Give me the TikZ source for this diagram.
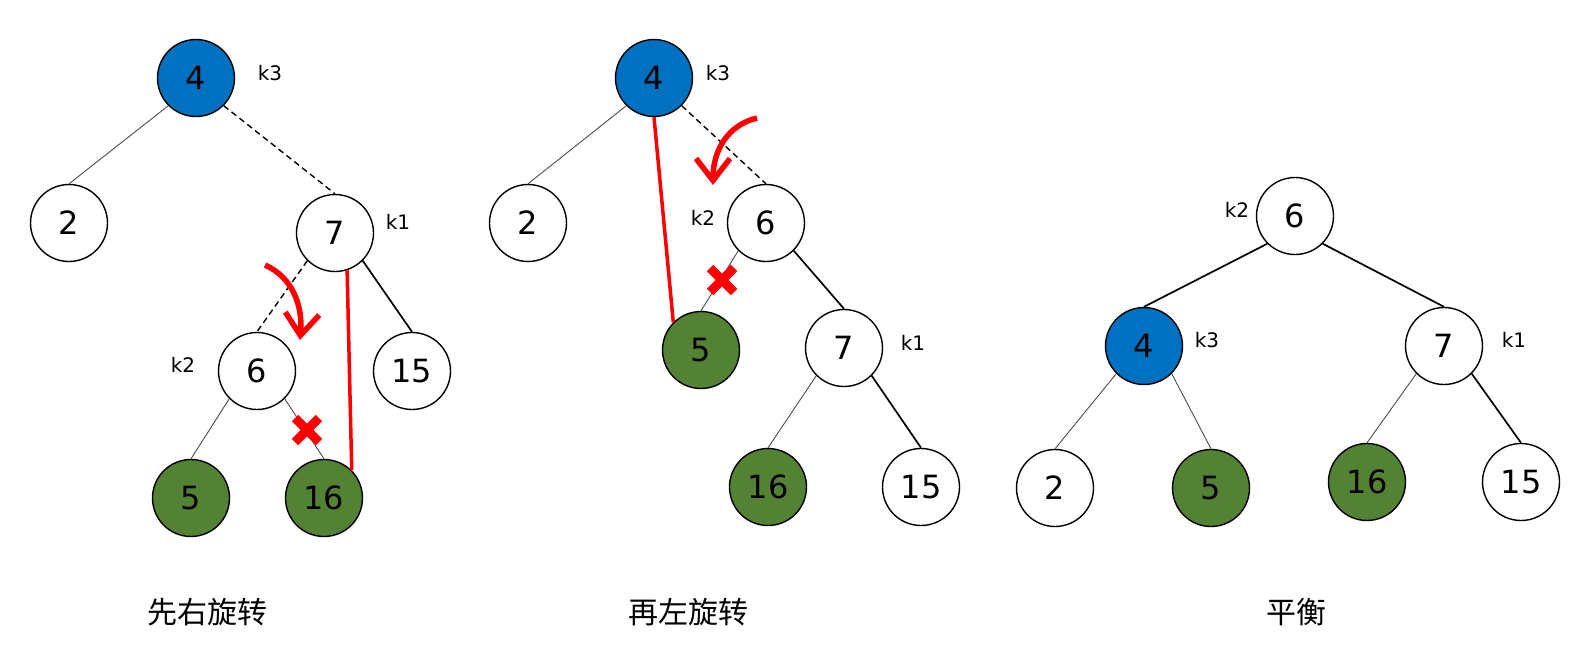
\documentclass[tikz,border=0pt]{standalone}
\usepackage{fontspec}
\setmainfont{DejaVu Sans}
\newfontfamily\cjk{Noto Sans CJK SC}
\usepackage{xcolor}
\usetikzlibrary{arrows.meta,calc}

\definecolor{rootblue}{RGB}{0,112,192}
\definecolor{leafgreen}{RGB}{84,130,53}

\tikzset{
  tnode/.style={circle, draw, line width=1.4pt, minimum size=77pt, inner sep=0pt,
    fill=white, font=\fontsize{32}{32}\selectfont},
  tblue/.style={tnode, fill=rootblue},
  tgreen/.style={tnode, fill=leafgreen},
  klabel/.style={font=\fontsize{20}{20}\selectfont},
  captext/.style={font=\cjk\fontsize{30}{30}\selectfont},
  thin edge/.style={line width=0.9pt, black!70},
  thick edge/.style={line width=1.7pt},
  cut edge/.style={line width=1.4pt, dash pattern=on 6pt off 4pt},
  new edge/.style={red, line width=3.5pt},
  rotarrow/.style={red, line width=5.5pt, -{Straight Barb[length=22pt,width=34pt]}},
  crossmark/.style={red, line width=9pt},
}

\begin{document}
\begin{tikzpicture}[x=1pt, y=-1pt]
  \useasboundingbox (0,0) rectangle (1587,651);

  % ---- first: right rotation at k1
  \node[tblue]  (a4)  at (196,78)  {4};
  \node[tnode]  (a2)  at (69,223)  {2};
  \node[tnode]  (a7)  at (335,233) {7};
  \node[tnode]  (a6)  at (257,371) {6};
  \node[tnode]  (a15) at (412,371) {15};
  \node[tgreen] (a5)  at (191,498) {5};
  \node[tgreen] (a16) at (324,498) {16};
  \node[klabel] (ka3) at (270,73)  {k3};
  \node[klabel] (ka1) at (398,222) {k1};
  \node[klabel] (ka2) at (183,365) {k2};
  \draw[thin edge]  (a4.south west) -- (a2.north);
  \draw[cut edge]   (a4.south east) -- (a7.north);
  \draw[cut edge]   (a7.south west) -- (a6.north);
  \draw[thick edge] (a7.south east) -- (a15.north);
  \draw[thin edge]  (a6.south west) -- (a5.north);
  \draw[thin edge]  (a6.south east) -- (a16.north);
  \draw[new edge]   (a7.-72) -- (a16.45);
  \draw[rotarrow] (265,265) .. controls (292,277) and (303,305) .. (300,340);
  \coordinate (xa) at (307,430);
  \draw[crossmark] ($(xa)+(-12,-12)$) -- ($(xa)+(12,12)$);
  \draw[crossmark] ($(xa)+(-12,12)$) -- ($(xa)+(12,-12)$);
  \node[captext] (capa) at (207,612) {先右旋转};

  % ---- second: left rotation at k3
  \node[tblue]  (b4)  at (654,78)  {4};
  \node[tnode]  (b2)  at (528,223) {2};
  \node[tnode]  (b6)  at (766,223) {6};
  \node[tgreen] (b5)  at (701,350) {5};
  \node[tnode]  (b7)  at (844,348) {7};
  \node[tgreen] (b16) at (768,487) {16};
  \node[tnode]  (b15) at (921,487) {15};
  \node[klabel] (kb3) at (718,73)  {k3};
  \node[klabel] (kb2) at (703,218) {k2};
  \node[klabel] (kb1) at (913,343) {k1};
  \draw[thin edge]  (b4.south west) -- (b2.north);
  \draw[cut edge]   (b4.south east) -- (b6.north);
  \draw[thin edge]  (b6.south west) -- (b5.north);
  \draw[thick edge] (b6.south east) -- (b7.north);
  \draw[thin edge]  (b7.south west) -- (b16.north);
  \draw[thick edge] (b7.south east) -- (b15.north);
  \draw[new edge]   (b4.south) -- (b5.135);
  \draw[rotarrow] (757,118) .. controls (728,125) and (713,150) .. (713,185);
  \coordinate (xb) at (722,280);
  \draw[crossmark] ($(xb)+(-12,-12)$) -- ($(xb)+(12,12)$);
  \draw[crossmark] ($(xb)+(-12,12)$) -- ($(xb)+(12,-12)$);
  \node[captext] (capb) at (688,612) {再左旋转};

  % ---- result: balanced
  \node[tnode]  (c6)  at (1295,216) {6};
  \node[tblue]  (c4)  at (1144,346) {4};
  \node[tnode]  (c7)  at (1444,346) {7};
  \node[tnode]  (c2)  at (1055,488) {2};
  \node[tgreen] (c5)  at (1211,488) {5};
  \node[tgreen] (c16) at (1367,482) {16};
  \node[tnode]  (c15) at (1521,482) {15};
  \node[klabel] (kc2) at (1237,210) {k2};
  \node[klabel] (kc3) at (1207,340) {k3};
  \node[klabel] (kc1) at (1514,340) {k1};
  \draw[thick edge] (c6.south west) -- (c4.north);
  \draw[thick edge] (c6.south east) -- (c7.north);
  \draw[thin edge]  (c4.south west) -- (c2.north);
  \draw[thin edge]  (c4.south east) -- (c5.north);
  \draw[thin edge]  (c7.south west) -- (c16.north);
  \draw[thick edge] (c7.south east) -- (c15.north);
  \node[captext] (capc) at (1296,612) {平衡};
\end{tikzpicture}
\end{document}
